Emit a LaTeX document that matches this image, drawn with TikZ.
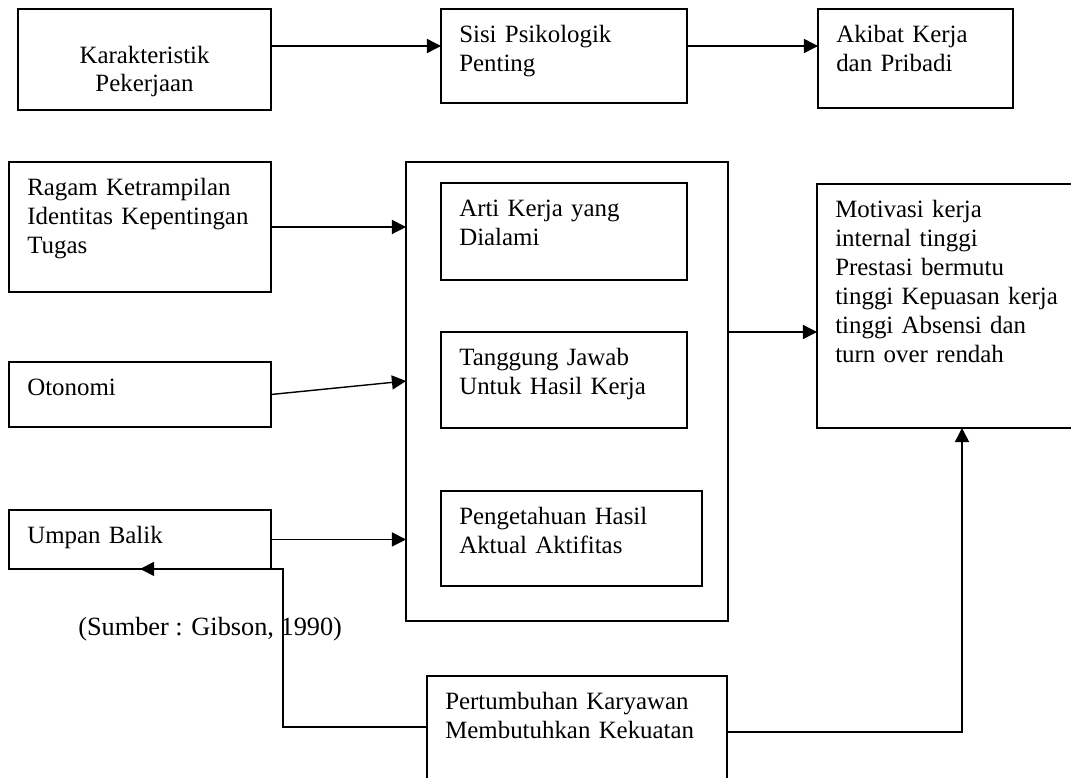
\documentclass[tikz,border=0pt]{standalone}
\usepackage{fontspec}
\setmainfont{Liberation Serif}
\usetikzlibrary{arrows.meta}

\tikzset{
  kotak/.style 2 args={draw, line width=1.2pt, anchor=north west, outer sep=0pt,
    inner xsep=13pt, inner ysep=0pt, align=left, text width=#1,
    text height=23.8pt, text depth=#2, font=\fontsize{17.7}{20.6}\selectfont},
  panah/.style={line width=1pt, -{Triangle[length=10pt,width=10pt]}}
}

\begin{document}
\begin{tikzpicture}[x=0.025cm,y=-0.025cm]
        \useasboundingbox (0,0) rectangle (1071,777);

        % Top row
        \node[kotak={154pt}{33.4pt},align=center,text height=38.4pt] (kar) at (18,9) {Karakteristik\\Pekerjaan};
        \node[kotak={149pt}{43pt}] (sisi) at (441,9) {Sisi Psikologik\\Penting};
        \node[kotak={112.7pt}{46.6pt}] (akibat) at (818,9) {Akibat Kerja\\dan Pribadi};

        % Job dimensions on the left
        \node[kotak={160.4pt}{68.6pt}] (ragam) at (9,162) {Ragam Ketrampilan\\Identitas Kepentingan\\Tugas};
        \node[kotak={160.4pt}{22.4pt}] (otonomi) at (9,362) {Otonomi};
        \node[kotak={160.4pt}{18.1pt}] (umpan) at (9,510) {Umpan Balik};

        % Middle frame with its three boxes
        \node[draw,line width=1.2pt,anchor=north west,outer sep=0pt,inner sep=0pt,
              minimum width=229pt,minimum height=326.5pt] (besar) at (406,162) {};
        \node[kotak={149pt}{45.2pt}] (arti) at (441,183) {Arti Kerja yang\\Dialami};
        \node[kotak={149pt}{44.5pt}] (tanggung) at (441,332) {Tanggung Jawab\\Untuk Hasil Kerja};
        \node[kotak={159.6pt}{43.7pt}] (tahu) at (441,491) {Pengetahuan Hasil\\Aktual Aktifitas};

        % Outcomes and moderator
        \node[kotak={166pt}{149.7pt}] (motivasi) at (817,184) {Motivasi kerja\\internal tinggi\\Prestasi bermutu\\tinggi Kepuasan kerja\\tinggi Absensi dan\\turn over rendah};
        \node[kotak={187.4pt}{68.6pt}] (tumbuh) at (427,676) {Pertumbuhan Karyawan\\Membutuhkan Kekuatan};

        \node[anchor=base west,inner sep=0pt,font=\fontsize{18.7}{22}\selectfont] (sumber) at (78,635) {(Sumber : Gibson, 1990)};

        % Arrows
        \draw[panah] (kar.east |- 0,46) -- (sisi.west |- 0,46);
        \draw[panah] (sisi.east |- 0,46) -- (akibat.west |- 0,46);
        \draw[panah] (ragam.east) -- (ragam.east -| besar.west);
        \draw[panah] (otonomi.east) -- (besar.west |- 0,381);
        \draw[panah] (umpan.east) -- (umpan.east -| besar.west);
        \draw[panah] (besar.east |- 0,332) -- (motivasi.west |- 0,332);
        \draw[panah] (tumbuh.east |- 0,732) -| (motivasi.south -| 962,0);
        \draw[panah] (tumbuh.west |- 0,727) -| (umpan.south -| 283,0) -- (umpan.south);
    \end{tikzpicture}
\end{document}
